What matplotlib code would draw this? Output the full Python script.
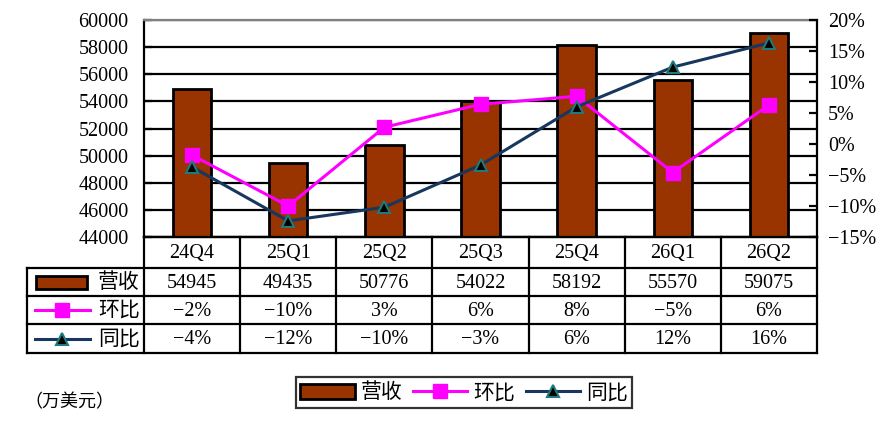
import matplotlib
matplotlib.use("Agg")
import matplotlib.pyplot as plt
import matplotlib.patches as mpatches
from matplotlib.lines import Line2D
from matplotlib.ticker import MultipleLocator, FuncFormatter
from matplotlib.font_manager import FontProperties

# ── data ─────────────────────────────────────────────────────────────────────
quarters = ["24Q4", "25Q1", "25Q2", "25Q3", "25Q4", "26Q1", "26Q2"]
revenue = [54945, 49435, 50776, 54022, 58192, 55570, 59075]
qoq = [-1.8, -10.0, 2.7, 6.4, 7.7, -4.6, 6.3]      # 环比, %
yoy = [-3.7, -12.4, -10.2, -3.4, 6.0, 12.4, 16.3]  # 同比, %
row_names = ["营收", "环比", "同比"]
unit_note = "（万美元）"

# ── style ─────────────────────────────────────────────────────────────────────
C_BAR = "#993300"
C_QOQ = "#FF00FF"
C_YOY = "#17375E"
C_TRI_EDGE = "#1F7A7A"
SERIF = ["Liberation Serif", "Noto Sans CJK SC"]
CJK = ["Noto Sans CJK SC", "DejaVu Sans"]
FS = 14.5
FS_CJK = 15
LW = 1.6

W, H = 884, 424
fig = plt.figure(figsize=(W / 100, H / 100), dpi=100)
fig.patch.set_facecolor("white")

# plot area in pixels
PL, PR, PT, PB = 144, 817, 20, 237
ax = fig.add_axes([PL / W, 1 - PB / H, (PR - PL) / W, (PB - PT) / H])

x = list(range(len(quarters)))
ax.bar(x, revenue, width=0.4, color=C_BAR, edgecolor="black", linewidth=2.0,
       zorder=3)
ax.set_xlim(-0.5, len(quarters) - 0.5)
ax.set_ylim(44000, 60000)
ax.yaxis.set_major_locator(MultipleLocator(2000))
ax.set_xticks([])
ax.grid(axis="y", color="black", linewidth=LW, zorder=0)
ax.set_axisbelow(True)
for s in ["left", "bottom"]:
    ax.spines[s].set_linewidth(LW)
    ax.spines[s].set_color("black")
ax.spines["top"].set_color("#808080")
ax.spines["top"].set_linewidth(LW)
ax.spines["right"].set_visible(False)
ax.tick_params(axis="y", direction="in", length=6, width=LW, pad=11,
               labelsize=FS)
for lab in ax.get_yticklabels():
    lab.set_family(SERIF)

ax2 = ax.twinx()
ax2.set_ylim(-15, 20)
ax2.yaxis.set_major_locator(MultipleLocator(5))
ax2.yaxis.set_major_formatter(
    FuncFormatter(lambda v, p: f"{int(round(v))}%".replace("-", "−")))
ax2.plot(x, qoq, color=C_QOQ, linewidth=2.2, marker="s", markersize=10.5,
         markerfacecolor=C_QOQ, markeredgecolor=C_QOQ, zorder=5)
ax2.plot(x, yoy, color=C_YOY, linewidth=2.2, marker="^", markersize=8.5,
         markerfacecolor="black", markeredgecolor=C_TRI_EDGE,
         markeredgewidth=1.5, zorder=5)
for s in ["left", "top", "bottom"]:
    ax2.spines[s].set_visible(False)
ax2.spines["right"].set_linewidth(LW)
ax2.tick_params(axis="y", direction="in", length=6, width=LW, pad=8,
                labelsize=FS)
for lab in ax2.get_yticklabels():
    lab.set_family(SERIF)

# ── data table (pixel overlay) ───────────────────────────────────────────────
tab = fig.add_axes([0, 0, 1, 1])
tab.set_xlim(0, W)
tab.set_ylim(H, 0)
tab.axis("off")
tab.patch.set_visible(False)

TL = 27
rows_y = [237, 268, 296, 324, 353]
col_w = (PR - PL) / len(quarters)
kw = dict(color="black", linewidth=LW, solid_capstyle="projecting")

tab.plot([PL, PR], [rows_y[0], rows_y[0]], **kw)
for yy in rows_y[1:]:
    tab.plot([TL, PR], [yy, yy], **kw)
tab.plot([TL, TL], [rows_y[1], rows_y[-1]], **kw)
for i in range(len(quarters) + 1):
    xx = PL + i * col_w
    tab.plot([xx, xx], [rows_y[0], rows_y[-1]], **kw)

def pct(v):
    return f"{int(round(v))}%".replace("-", "−")

row_vals = [[str(v) for v in revenue], [pct(v) for v in qoq],
            [pct(v) for v in yoy]]
for i, q in enumerate(quarters):
    cx = PL + (i + 0.5) * col_w
    tab.text(cx, (rows_y[0] + rows_y[1]) / 2 + 1, q, ha="center", va="center",
             fontsize=FS, family=SERIF)
    for r in range(3):
        tab.text(cx, (rows_y[r + 1] + rows_y[r + 2]) / 2 + 1, row_vals[r][i],
                 ha="center", va="center", fontsize=FS, family=SERIF)

for r, name in enumerate(row_names):
    cy = (rows_y[r + 1] + rows_y[r + 2]) / 2
    tab.text(119, cy, name, ha="center", va="center", fontsize=FS_CJK,
             family=CJK)

# row keys
cy = (rows_y[1] + rows_y[2]) / 2
tab.add_patch(mpatches.Rectangle((36, cy - 6.5), 51, 13, facecolor=C_BAR,
                                 edgecolor="black", linewidth=2.0))
cy = (rows_y[2] + rows_y[3]) / 2
tab.plot([35, 90], [cy, cy], color=C_QOQ, linewidth=2.2)
tab.plot([62], [cy], marker="s", markersize=10.5, color=C_QOQ)
cy = (rows_y[3] + rows_y[4]) / 2
tab.plot([35, 90], [cy, cy], color=C_YOY, linewidth=2.2)
tab.plot([62], [cy], marker="^", markersize=8.5, markerfacecolor="black",
         markeredgecolor=C_TRI_EDGE, markeredgewidth=1.5)

tab.text(24, 402, unit_note, ha="left", va="center", fontsize=13, family=CJK)

# ── legend ───────────────────────────────────────────────────────────────────
handles = [
    mpatches.Patch(facecolor=C_BAR, edgecolor="black", linewidth=2.0),
    Line2D([0], [0], color=C_QOQ, linewidth=2.2, marker="s", markersize=10.5),
    Line2D([0], [0], color=C_YOY, linewidth=2.2, marker="^", markersize=8.5,
           markerfacecolor="black", markeredgecolor=C_TRI_EDGE,
           markeredgewidth=1.5),
]
leg = fig.legend(handles, row_names, loc="center",
                 bbox_to_anchor=(464 / W, 1 - 392.5 / H), ncol=3,
                 prop=FontProperties(family=CJK, size=FS_CJK), frameon=True,
                 fancybox=False, edgecolor="black", borderpad=0.2,
                 handlelength=2.6, handletextpad=0.3, columnspacing=0.5,
                 borderaxespad=0)
leg.get_frame().set_linewidth(LW)

fig.savefig("out.png", dpi=100, facecolor="white")
